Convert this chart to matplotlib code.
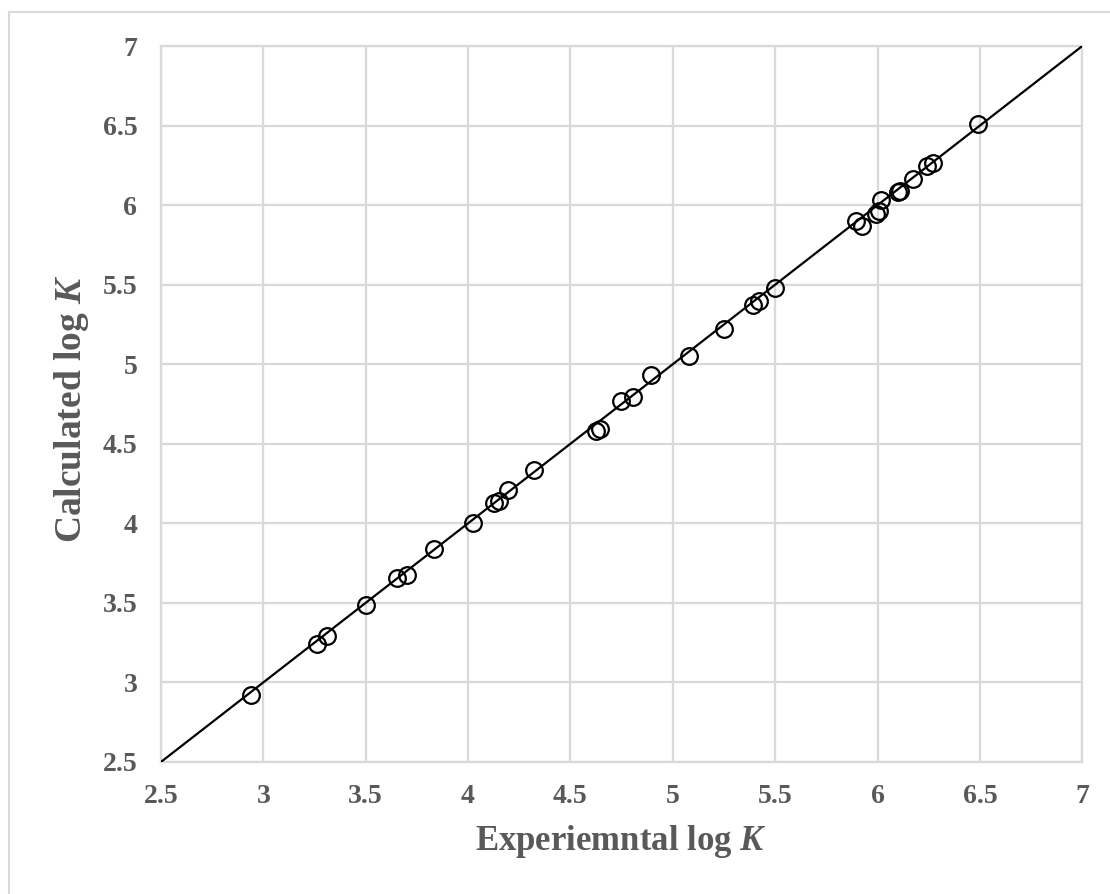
import matplotlib
matplotlib.use("Agg")
import matplotlib.pyplot as plt
from matplotlib.patches import Rectangle

exp_logk = [2.94, 3.26, 3.31, 3.50, 3.655, 3.70, 3.835, 4.026, 4.129, 4.149,
            4.194, 4.322, 4.624, 4.644, 4.747, 4.804, 4.894, 5.077, 5.248, 5.391,
            5.423, 5.498, 5.897, 5.923, 5.992, 6.008, 6.016, 6.10, 6.11, 6.175,
            6.242, 6.27, 6.49]
calc_logk = [2.92, 3.242, 3.29, 3.484, 3.658, 3.673, 3.841, 4.005, 4.125, 4.141,
             4.209, 4.335, 4.583, 4.593, 4.768, 4.797, 4.934, 5.049, 5.222, 5.375,
             5.396, 5.480, 5.900, 5.869, 5.943, 5.960, 6.033, 6.080, 6.090, 6.163,
             6.249, 6.264, 6.512]
ideal = [2.5, 7]
ticks = [2.5, 3, 3.5, 4, 4.5, 5, 5.5, 6, 6.5, 7]
tick_labels = ["2.5", "3", "3.5", "4", "4.5", "5", "5.5", "6", "6.5", "7"]

grey = "#595959"
grid = "#d9d9d9"
plt.rcParams["font.family"] = ["Liberation Serif", "DejaVu Serif"]
plt.rcParams["mathtext.fontset"] = "custom"
plt.rcParams["mathtext.rm"] = "Liberation Serif"
plt.rcParams["mathtext.it"] = "Liberation Serif:italic"
plt.rcParams["mathtext.bf"] = "Liberation Serif:bold"
plt.rcParams["mathtext.bfit"] = "Liberation Serif:bold:italic"

fig = plt.figure(figsize=(11.1, 8.94), dpi=100)
fig.patches.append(Rectangle((0.008, -0.01), 1.1, 0.9966, transform=fig.transFigure,
                             fill=False, edgecolor=grid, linewidth=1.5))
ax = fig.add_axes([0.145, 0.1477, 0.830, 0.8008])

ax.plot(ideal, ideal, color="black", linewidth=1.6, zorder=3)
ax.plot(exp_logk, calc_logk, linestyle="none", marker="o", markersize=12,
        markerfacecolor="none", markeredgecolor="black", markeredgewidth=1.6, zorder=4)

ax.set_xlim(2.5, 7)
ax.set_ylim(2.5, 7)
ax.set_xticks(ticks)
ax.set_yticks(ticks)
ax.set_xticklabels(tick_labels)
ax.set_yticklabels(tick_labels)
ax.tick_params(length=0, labelsize=20, labelcolor=grey)
ax.tick_params(axis="x", pad=16)
ax.tick_params(axis="y", pad=17)
for lbl in ax.get_xticklabels() + ax.get_yticklabels():
    lbl.set_fontweight("bold")
ax.grid(True, color=grid, linewidth=1.6)
ax.set_axisbelow(True)
for sp in ax.spines.values():
    sp.set_color(grid)
    sp.set_linewidth(1.6)

ax.set_xlabel(r"Experiemntal log $\mathbfit{K}$", fontsize=25, fontweight="bold",
              color=grey, va="center")
ax.set_ylabel(r"Calculated log $\mathbfit{K}$", fontsize=27, fontweight="bold",
              color=grey, va="center")
ax.xaxis.set_label_coords(0.4995, -0.1117)
ax.yaxis.set_label_coords(-0.0966, 0.493)

fig.savefig("out.png", dpi=100)
